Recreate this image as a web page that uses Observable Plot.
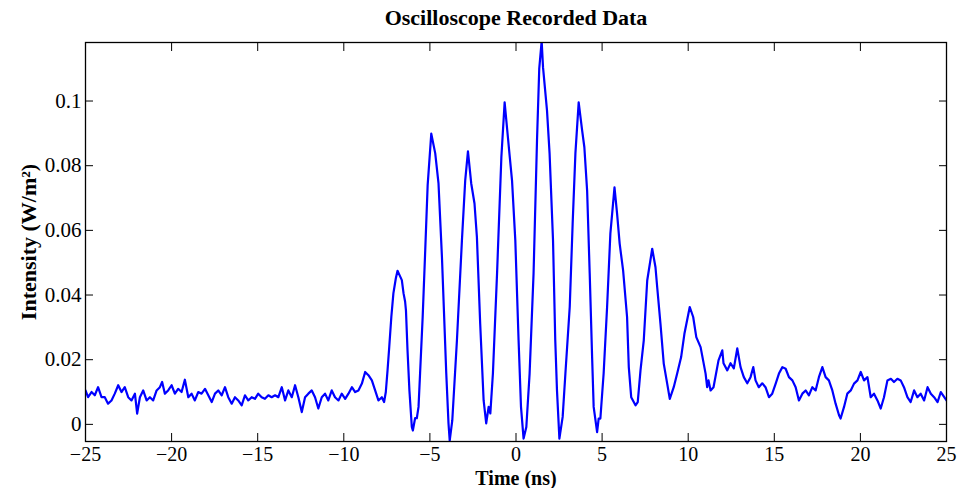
<!DOCTYPE html>
<html>
<head>
<meta charset="utf-8">
<script src="https://cdn.jsdelivr.net/npm/d3@7"></script>
<script src="https://cdn.jsdelivr.net/npm/@observablehq/plot@0.6"></script>
<style>
  html, body { margin: 0; padding: 0; background: #fff; }
</style>
</head>
<body>
<div id="chart"></div>
<script>
const chartTitle = "Oscilloscope Recorded Data";
const xLabel = "Time (ns)";
const yLabel = "Intensity (W/m²)";
const xTicks = [-25, -20, -15, -10, -5, 0, 5, 10, 15, 20, 25];
const yTicks = [0, 0.02, 0.04, 0.06, 0.08, 0.1];

// Time (ns) samples
const time = [
  -25.0, -24.85, -24.65, -24.46, -24.27, -24.07, -23.88, -23.69, -23.49, -23.30,
  -23.10, -22.91, -22.72, -22.52, -22.33, -22.13, -22.00, -21.84, -21.65, -21.45,
  -21.26, -21.07, -20.87, -20.68, -20.55, -20.39, -20.20, -20.00, -19.81, -19.62,
  -19.42, -19.23, -19.03, -18.84, -18.65, -18.45, -18.26, -18.06, -17.87, -17.67,
  -17.48, -17.29, -17.09, -16.90, -16.71, -16.51, -16.32, -16.13, -15.93, -15.74,
  -15.55, -15.35, -15.16, -14.97, -14.77, -14.58, -14.38, -14.19, -13.99, -13.80,
  -13.60, -13.41, -13.22, -13.02, -12.83, -12.64, -12.44, -12.25, -12.06, -11.86,
  -11.67, -11.48, -11.28, -11.09, -10.90, -10.70, -10.51, -10.31, -10.12, -9.92,
  -9.73, -9.53, -9.34, -9.15, -8.95, -8.76, -8.57, -8.37, -8.18, -7.99,
  -7.79, -7.66, -7.56,
  -7.46, -7.36, -7.24, -7.12, -6.98, -6.88, -6.75, -6.63, -6.53, -6.44,
  -6.39, -6.30, -6.19, -6.05, -5.99, -5.86, -5.76, -5.66, -5.57, -5.42,
  -5.27, -5.13, -4.92, -4.69, -4.50, -4.30, -4.05, -3.92, -3.85, -3.70,
  -3.43, -3.14, -2.95, -2.79, -2.60, -2.41, -2.27, -2.08, -1.88, -1.73,
  -1.59, -1.49, -1.34, -1.10, -0.85, -0.66, -0.47, -0.36, -0.23, -0.04,
  0.15, 0.29, 0.44, 0.60, 0.79, 1.02, 1.22, 1.35, 1.49, 1.57,
  1.80, 1.95, 2.15, 2.28, 2.38, 2.52, 2.71, 2.87, 3.12, 3.29,
  3.45, 3.64, 3.84, 3.97, 4.13, 4.28, 4.42, 4.51, 4.71, 4.80,
  4.90, 5.09, 5.29, 5.48, 5.72, 5.87, 6.02, 6.22, 6.45, 6.55,
  6.69, 6.94, 7.07, 7.23, 7.42, 7.62, 7.91, 8.10, 8.20, 8.39,
  8.58, 8.78, 8.93, 9.16, 9.36, 9.59, 9.78, 10.09, 10.29, 10.47,
  10.72, 11.01, 11.10, 11.18, 11.30, 11.47, 11.76, 11.98, 12.05, 12.27,
  12.46, 12.65, 12.85, 13.04, 13.23, 13.43, 13.62, 13.78, 13.91, 14.10,
  14.30, 14.49, 14.69, 14.88, 15.08, 15.27, 15.47, 15.66, 15.85, 16.05,
  16.24, 16.43, 16.63, 16.82, 17.01, 17.21, 17.40, 17.59, 17.79, 17.98,
  18.17, 18.37, 18.56, 18.76, 18.85, 19.05, 19.24, 19.44, 19.63, 19.83,
  20.02, 20.21, 20.41, 20.60, 20.79, 20.99, 21.18, 21.37, 21.57, 21.77,
  21.95, 22.15, 22.34, 22.53, 22.73, 22.92, 23.12, 23.31, 23.50, 23.70,
  23.90, 24.09, 24.28, 24.48, 24.67, 24.87, 25.00
];

// Intensity (W/m^2) at each time sample
const intensity = [
  0.0105, 0.0084, 0.0100, 0.0090, 0.0115, 0.0084, 0.0084, 0.0064, 0.0074, 0.0095,
  0.0121, 0.0100, 0.0115, 0.0084, 0.0074, 0.0095, 0.0033, 0.0084, 0.0105, 0.0074,
  0.0084, 0.0074, 0.0105, 0.0115, 0.0131, 0.0095, 0.0105, 0.0121, 0.0095, 0.0110,
  0.0100, 0.0138, 0.0084, 0.0095, 0.0074, 0.0100, 0.0095, 0.0110, 0.0090, 0.0069,
  0.0095, 0.0105, 0.0090, 0.0115, 0.0084, 0.0064, 0.0084, 0.0074, 0.0059, 0.0090,
  0.0074, 0.0084, 0.0079, 0.0095, 0.0084, 0.0079, 0.0090, 0.0084, 0.0090, 0.0084,
  0.0115, 0.0074, 0.0105, 0.0084, 0.0121, 0.0084, 0.0038, 0.0084, 0.0095, 0.0105,
  0.0084, 0.0049, 0.0084, 0.0095, 0.0074, 0.0105, 0.0084, 0.0074, 0.0095, 0.0079,
  0.0095, 0.0115, 0.0100, 0.0105, 0.0126, 0.0162, 0.0152, 0.0136, 0.0105, 0.0074,
  0.0084, 0.0069, 0.0100,
  0.0167, 0.0240, 0.0332, 0.0405, 0.0451, 0.0475, 0.0460, 0.0446, 0.0405, 0.0380,
  0.0352, 0.0229, 0.0105, -0.0008, -0.0019, 0.0019, 0.0019, 0.0054, 0.0158, 0.0332,
  0.0540, 0.0740, 0.0899, 0.0838, 0.0745, 0.0517, 0.0158, 0.0003, -0.0050, 0.0012,
  0.0260, 0.0569, 0.0754, 0.0844, 0.0745, 0.0683, 0.0579, 0.0312, 0.0074, 0.0003,
  0.0054, 0.0034, 0.0158, 0.0467, 0.0826, 0.0996, 0.0888, 0.0826, 0.0754, 0.0569,
  0.0260, 0.0054, -0.0044, -0.0008, 0.0157, 0.0467, 0.0878, 0.1100, 0.1185, 0.1104,
  0.0971, 0.0838, 0.0569, 0.0260, 0.0105, -0.0044, 0.0023, 0.0158, 0.0363, 0.0621,
  0.0838, 0.0996, 0.0909, 0.0857, 0.0723, 0.0467, 0.0208, 0.0054, -0.0024, 0.0018,
  0.0018, 0.0158, 0.0363, 0.0590, 0.0733, 0.0652, 0.0559, 0.0476, 0.0332, 0.0177,
  0.0084, 0.0059, 0.0069, 0.0167, 0.0260, 0.0445, 0.0543, 0.0486, 0.0424, 0.0311,
  0.0188, 0.0126, 0.0079, 0.0115, 0.0157, 0.0208, 0.0280, 0.0363, 0.0332, 0.0270,
  0.0239, 0.0157, 0.0115, 0.0136, 0.0105, 0.0115, 0.0198, 0.0229, 0.0189, 0.0167,
  0.0189, 0.0173, 0.0235, 0.0177, 0.0146, 0.0127, 0.0146, 0.0177, 0.0136, 0.0115,
  0.0127, 0.0115, 0.0084, 0.0095, 0.0126, 0.0157, 0.0177, 0.0172, 0.0146, 0.0136,
  0.0115, 0.0074, 0.0095, 0.0105, 0.0090, 0.0115, 0.0105, 0.0146, 0.0177, 0.0146,
  0.0136, 0.0105, 0.0064, 0.0028, 0.0018, 0.0054, 0.0095, 0.0105, 0.0126, 0.0136,
  0.0162, 0.0136, 0.0146, 0.0084, 0.0095, 0.0074, 0.0049, 0.0084, 0.0136, 0.0141,
  0.0131, 0.0141, 0.0136, 0.0115, 0.0084, 0.0069, 0.0105, 0.0084, 0.0095, 0.0074,
  0.0115, 0.0095, 0.0084, 0.0069, 0.0100, 0.0084, 0.0074
];

const data = time.map((t, i) => ({t, v: intensity[i]}));

const fmtX = d => d < 0 ? "\u2212" + Math.abs(d) : String(d);
const fmtY = d => String(+d.toFixed(2));
const blank = () => "";
const serif = "'Liberation Serif', 'Times New Roman', Times, serif";

const chart = Plot.plot({
  width: 960,
  height: 488,
  marginTop: 42,
  marginBottom: 47,
  marginLeft: 85,
  marginRight: 14,
  style: {fontFamily: serif, fontSize: "21px", background: "#fff", color: "#000"},
  x: {domain: [-25, 25]},
  y: {domain: [-0.0053, 0.1181]},
  marks: [
    Plot.line(data, {x: "t", y: "v", stroke: "#0000ff", strokeWidth: 2.2, clip: true}),
    Plot.frame({stroke: "#000", strokeWidth: 1.3}),
    Plot.axisX(xTicks, {anchor: "bottom", tickSize: 0, tickPadding: 5, tickFormat: fmtX, fontSize: 20, label: null}),
    Plot.axisX(xTicks, {anchor: "bottom", tickSize: -8, tickFormat: blank, label: null}),
    Plot.axisX(xTicks, {anchor: "top", tickSize: -8, tickFormat: blank, label: null}),
    Plot.axisY(yTicks, {anchor: "left", tickSize: 0, tickPadding: 4, tickFormat: fmtY, fontSize: 21, label: null}),
    Plot.axisY(yTicks, {anchor: "left", tickSize: -8, tickFormat: blank, label: null}),
    Plot.axisY(yTicks, {anchor: "right", tickSize: -8, tickFormat: blank, label: null}),
    Plot.text([chartTitle], {text: d => d, frameAnchor: "top", lineAnchor: "bottom", dy: -18, fontWeight: "bold", fontSize: 22}),
    Plot.text([xLabel], {text: d => d, frameAnchor: "bottom", lineAnchor: "middle", dy: 37, fontWeight: "bold", fontSize: 20}),
    Plot.text([yLabel], {text: d => d, frameAnchor: "left", textAnchor: "middle", lineAnchor: "middle", rotate: -90, dx: -57, fontWeight: "bold", fontSize: 22})
  ]
});
document.getElementById("chart").appendChild(chart);
</script>
</body>
</html>
